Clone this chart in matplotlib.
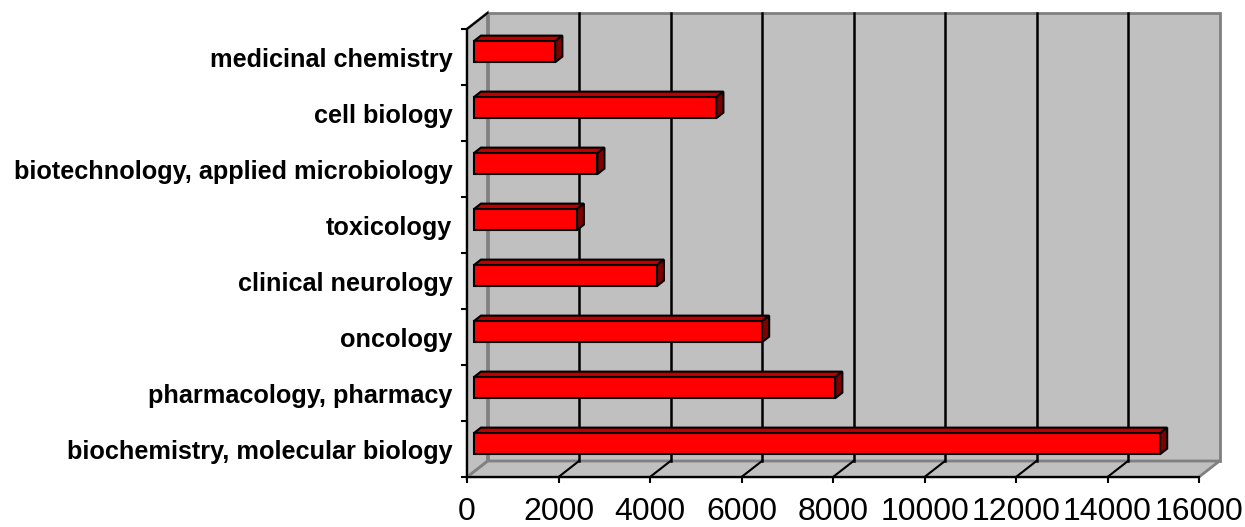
import matplotlib
matplotlib.use('Agg')
import matplotlib.pyplot as plt
from matplotlib.patches import Polygon, Rectangle
import numpy as np

# dati (dal basso verso l'alto)
categorie = ['biochemistry, molecular biology', 'pharmacology, pharmacy', 'oncology',
             'clinical neurology', 'toxicology', 'biotechnology, applied microbiology',
             'cell biology', 'medicinal chemistry']
valori = [15000, 7900, 6300, 4000, 2250, 2700, 5300, 1780]
xticks = [0, 2000, 4000, 6000, 8000, 10000, 12000, 14000, 16000]

plt.rcParams['font.family'] = ['Liberation Sans', 'DejaVu Sans']

W, H = 1245, 527
fig = plt.figure(figsize=(W / 100, H / 100), dpi=100)
# piano frontale del grafico in pixel
x0p, x1p, y0p, y1p = 467, 1199, 29, 477
ax = fig.add_axes([x0p / W, (H - y1p) / H, (x1p - x0p) / W, (y1p - y0p) / H])
xmax = 16000
n = len(categorie)
ax.set_xlim(0, xmax)
ax.set_ylim(-0.5, n - 0.5)
ax.patch.set_visible(False)

# profondita' 3D in unita' dati
sx = xmax / (x1p - x0p)
sy = n / (y1p - y0p)
DX = 20.5 * sx
DY = 16 * sy
grigio = '#c0c0c0'
bordo = '#808080'
yb, yt = -0.5, n - 0.5

# parete di fondo, pavimento, parete sinistra
ax.add_patch(Polygon([(DX, yb + DY), (xmax + DX, yb + DY), (xmax + DX, yt + DY), (DX, yt + DY)],
                     closed=True, facecolor=grigio, edgecolor=bordo, lw=2, clip_on=False, zorder=1))
ax.add_patch(Polygon([(0, yb), (xmax, yb), (xmax + DX, yb + DY), (DX, yb + DY)],
                     closed=True, facecolor=grigio, edgecolor=bordo, lw=2, clip_on=False, zorder=1))
ax.add_patch(Polygon([(0, yb), (0, yt), (DX, yt + DY), (DX, yb + DY)],
                     closed=True, facecolor=grigio, edgecolor=bordo, lw=2, clip_on=False, zorder=1))
ax.plot([0, DX], [yt, yt + DY], color='black', lw=1.5, clip_on=False, zorder=2)

# griglia sul fondo e sul pavimento
for xt in xticks[1:-1]:
    ax.plot([xt + DX, xt + DX], [yb + DY, yt + DY], color='black', lw=1.8, clip_on=False, zorder=2)
    ax.plot([xt, xt + DX], [yb, yb + DY], color='black', lw=1.5, clip_on=False, zorder=2)

# barre 3D
f1, f2 = 0.33, 0.68
h = 0.375
for i, v in enumerate(valori):
    xa = f1 * DX
    xb = v + f1 * DX
    ya = i - h / 2 + f1 * DY
    yc = i + h / 2 + f1 * DY
    dx = (f2 - f1) * DX
    dy = (f2 - f1) * DY
    ax.add_patch(Polygon([(xa, yc), (xb, yc), (xb + dx, yc + dy), (xa + dx, yc + dy)],
                         closed=True, facecolor='#c00000', edgecolor='black', lw=1.5,
                         clip_on=False, zorder=3))
    ax.add_patch(Polygon([(xb, ya), (xb + dx, ya + dy), (xb + dx, yc + dy), (xb, yc)],
                         closed=True, facecolor='#800000', edgecolor='black', lw=1.5,
                         clip_on=False, zorder=3))
    ax.add_patch(Rectangle((xa, ya), v, h, facecolor='#ff0000', edgecolor='black', lw=1.5,
                           clip_on=False, zorder=4))

# assi
for s in ['top', 'right']:
    ax.spines[s].set_visible(False)
for s in ['left', 'bottom']:
    ax.spines[s].set_linewidth(1.5)
    ax.spines[s].set_zorder(5)

ax.set_xticks(xticks)
ax.set_xticklabels([str(t) for t in xticks], fontsize=23)
ax.tick_params(axis='x', direction='out', length=4.5, width=1.5, pad=10)

ax.set_yticks(np.arange(-0.5, n, 1))
ax.set_yticklabels([])
ax.tick_params(axis='y', which='major', direction='out', length=4.5, width=1.5)
ax.set_yticks(np.arange(n), minor=True)
ax.set_yticklabels(categorie, minor=True, fontsize=18.2, fontweight='bold')
ax.tick_params(axis='y', which='minor', length=0, pad=10.5)

fig.savefig('out.png', dpi=100)
